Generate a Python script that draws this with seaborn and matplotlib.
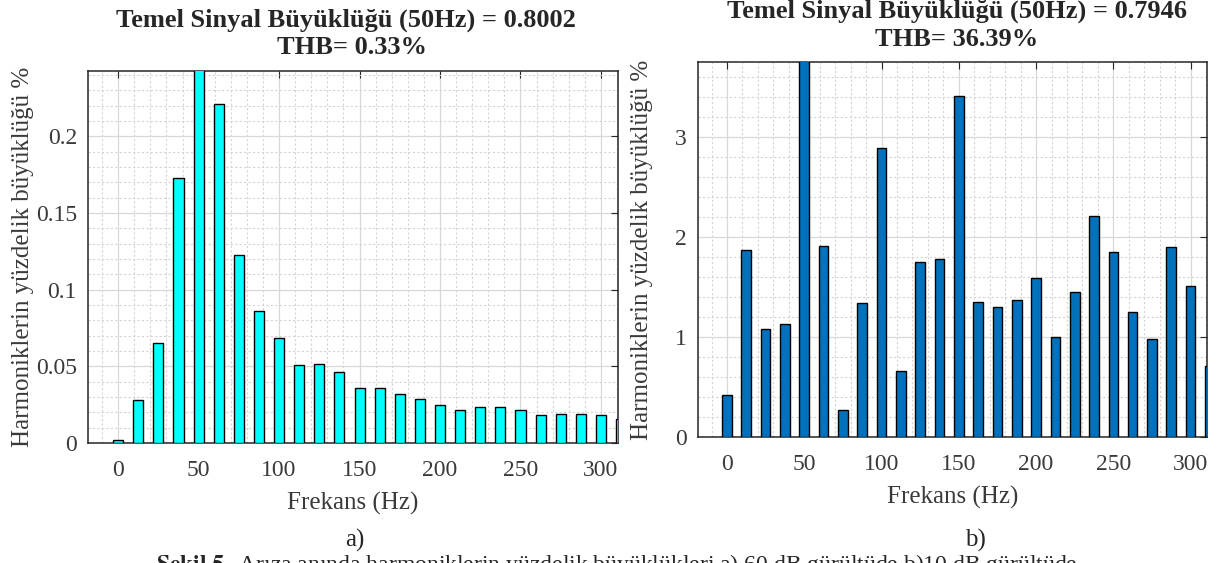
import numpy as np
import pandas as pd
import matplotlib
matplotlib.use('Agg')
import matplotlib.pyplot as plt
import seaborn as sns
from matplotlib.ticker import MultipleLocator

# harmonic frequencies (Hz), 12.5 Hz spacing
freqs = [0, 12.5, 25, 37.5, 50, 62.5, 75, 87.5, 100, 112.5, 125, 137.5, 150,
         162.5, 175, 187.5, 200, 212.5, 225, 237.5, 250, 262.5, 275, 287.5, 300, 312.5]

# a) 60 dB noise
harm_a = [0.0017, 0.0278, 0.0652, 0.1728, 0.2500, 0.2211, 0.1228, 0.0863, 0.0685,
          0.0507, 0.0517, 0.0465, 0.0361, 0.0361, 0.0320, 0.0289, 0.0246, 0.0213,
          0.0235, 0.0235, 0.0213, 0.0180, 0.0191, 0.0191, 0.0180, 0.0159]

# b) 10 dB noise
harm_b = [0.42, 1.866, 1.081, 1.131, 3.90, 1.909, 0.266, 1.337, 2.887, 0.665,
          1.753, 1.783, 3.412, 1.350, 1.304, 1.370, 1.593, 1.004, 1.447, 2.215,
          1.849, 1.254, 0.981, 1.896, 1.510, 0.71]

title_lines = [['Temel Sinyal Büyüklüğü (50Hz) = 0.8002', 'THB= 0.33%'],
               ['Temel Sinyal Büyüklüğü (50Hz) = 0.7946', 'THB= 36.39%']]
yticks = [[0, 0.05, 0.1, 0.15, 0.2], [0, 1, 2, 3]]
ytick_labels = [['0', '0.05', '0.1', '0.15', '0.2'], ['0', '1', '2', '3']]
xticks = [0, 50, 100, 150, 200, 250, 300]
ylims = [0.2425, 3.75]
yminor = [0.01, 0.2]
colors = ['#00FFFF', '#0072BD']
sub_labels = ['a)', 'b)']

sns.set_style('white')
plt.rcParams['font.family'] = ['Liberation Serif', 'DejaVu Serif']
plt.rcParams['mathtext.fontset'] = 'stix'

fig = plt.figure(figsize=(12.24, 5.63), dpi=100)
W, H = 1224, 563
# axes boxes in pixels: left, top, right, bottom
boxes = [(88, 71, 618, 443), (698, 62, 1207, 437)]
# title line centres in pixels
title_pos = [[(346, 20), (352, 47)], [(957, 11), (957, 40)]]
ylabel_x = [34, 653]
txt = '#3a3a3a'

for i, (vals, col) in enumerate([(harm_a, colors[0]), (harm_b, colors[1])]):
    l, t, r, b = boxes[i]
    ax = fig.add_axes([l / W, 1 - b / H, (r - l) / W, (b - t) / H])
    df = pd.DataFrame({'f': freqs, 'v': vals})
    sns.barplot(data=df, x='f', y='v', native_scale=True, color=col,
                saturation=1, edgecolor='black', linewidth=1.0, width=0.5,
                errorbar=None, ax=ax, zorder=3)
    ax.set_xlim(-18.75, 310.6)
    ax.set_ylim(0, ylims[i])
    ax.set_xticks(xticks)
    ax.set_xticklabels([str(x) for x in xticks])
    ax.set_yticks(yticks[i])
    ax.set_yticklabels(ytick_labels[i])
    ax.xaxis.set_minor_locator(MultipleLocator(10))
    ax.yaxis.set_minor_locator(MultipleLocator(yminor[i]))
    ax.grid(True, which='major', color='#d8d8d8', linewidth=0.9, zorder=0)
    ax.grid(True, which='minor', color='#d4d4d4', linewidth=0.8,
            linestyle=(0, (2, 2)), zorder=0)
    ax.set_axisbelow(True)
    ax.tick_params(which='both', direction='in', top=True, right=True,
                   colors='#262626', labelcolor=txt, labelsize=17)
    ax.tick_params(which='major', length=5, width=0.8)
    ax.tick_params(which='minor', length=0)
    ax.tick_params(axis='x', pad=12)
    ax.tick_params(axis='y', pad=8)
    for s in ax.spines.values():
        s.set_color('#262626')
        s.set_linewidth(1.1)
        s.set_visible(True)
    ax.set_xlabel('Frekans (Hz)', fontsize=18, color=txt, labelpad=8)
    ax.set_ylabel('Harmoniklerin yüzdelik büyüklüğü %', fontsize=18, color=txt)
    ax.yaxis.set_label_coords((ylabel_x[i] - l) / (r - l), 0.5)
    for line, (px, py) in zip(title_lines[i], title_pos[i]):
        fig.text(px / W, 1 - py / H, line, fontsize=19, fontweight='bold',
                 ha='center', va='center')

fig.text(355 / W, 1 - 540 / H, sub_labels[0], fontsize=18, ha='center', va='center')
fig.text(975 / W, 1 - 540 / H, sub_labels[1], fontsize=18, ha='center', va='center')
fig.text(617 / W, 1 - 552 / H,
         r'$\mathbf{Şekil\ 5.}$ Arıza anında harmoniklerin yüzdelik büyüklükleri a) 60 dB gürültüde b)10 dB gürültüde',
         fontsize=17, ha='center', va='top')

fig.savefig('out.png', dpi=100)
